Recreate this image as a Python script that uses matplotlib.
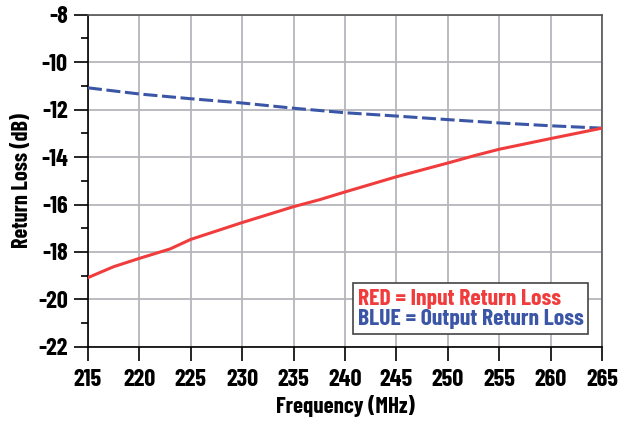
import matplotlib
matplotlib.use("Agg")
import matplotlib.pyplot as plt
from matplotlib.ticker import MultipleLocator

plt.rcParams["font.family"] = ["Barlow Condensed", "DejaVu Sans"]
plt.rcParams["font.weight"] = "bold"

# input return loss (red)
freq_in = [215, 217.5, 220, 223, 225, 230, 235, 237.5, 240, 245, 250, 252.5, 255, 260, 265]
rl_in = [-19.08, -18.62, -18.27, -17.87, -17.47, -16.76, -16.09, -15.80, -15.47,
         -14.83, -14.25, -13.95, -13.67, -13.22, -12.78]

# output return loss (blue)
freq_out = [215, 220, 225, 230, 235, 240, 245, 250, 255, 260, 265]
rl_out = [-11.08, -11.34, -11.54, -11.72, -11.94, -12.13, -12.27, -12.42,
          -12.56, -12.68, -12.78]

xticks = [215, 220, 225, 230, 235, 240, 245, 250, 255, 260, 265]
yticks = [-22, -20, -18, -16, -14, -12, -10, -8]

RED = "#f03c3c"
BLUE = "#3b56a6"

fig = plt.figure(figsize=(6.19, 4.21), dpi=100)
ax = fig.add_axes([0.142, 0.176, 0.8305, 0.789])

ax.plot(freq_out, rl_out, color=BLUE, lw=2.2, ls=(0, (4.6, 1.5)),
        label="BLUE = Output Return Loss", zorder=3)
ax.plot(freq_in, rl_in, color=RED, lw=2.2,
        label="RED = Input Return Loss", zorder=3)

ax.set_xlim(215, 265)
ax.set_ylim(-22, -8)
ax.set_xticks(xticks)
ax.set_yticks(yticks)
ax.set_yticklabels([str(v) for v in yticks])
ax.yaxis.set_minor_locator(MultipleLocator(1))

ax.grid(True, which="major", color="#b4b6bc", lw=1.3)
ax.set_axisbelow(True)

ax.tick_params(axis="both", which="major", direction="out", length=10,
               width=1.2, labelsize=17.5, pad=4.5)
ax.tick_params(axis="x", which="major", pad=6)
ax.tick_params(axis="y", which="minor", direction="out", length=5, width=1.2)
for lab in ax.get_xticklabels() + ax.get_yticklabels():
    lab.set_fontweight("bold")

for s in ["left", "bottom"]:
    ax.spines[s].set_color("black")
    ax.spines[s].set_linewidth(1.2)
for s in ["top", "right"]:
    ax.spines[s].set_color("#555555")
    ax.spines[s].set_linewidth(1.2)

ax.set_xlabel("Frequency (MHz)", fontsize=16.5, fontweight="bold", labelpad=3)
ax.set_ylabel("Return Loss (dB)", fontsize=16, fontweight="bold", labelpad=4)

handles, labels = ax.get_legend_handles_labels()
leg = ax.legend(handles[::-1], labels[::-1], loc="lower right",
                bbox_to_anchor=(0.973, 0.039), handlelength=0, handletextpad=0,
                fancybox=False, edgecolor="#444444", framealpha=1,
                prop={"size": 17, "weight": "bold"}, borderpad=0.2,
                labelspacing=0.0, borderaxespad=0)
leg.get_frame().set_linewidth(1.2)
for h in leg.legend_handles:
    h.set_visible(False)
for t, c in zip(leg.get_texts(), [RED, BLUE]):
    t.set_color(c)

fig.savefig("out.png", dpi=100)
